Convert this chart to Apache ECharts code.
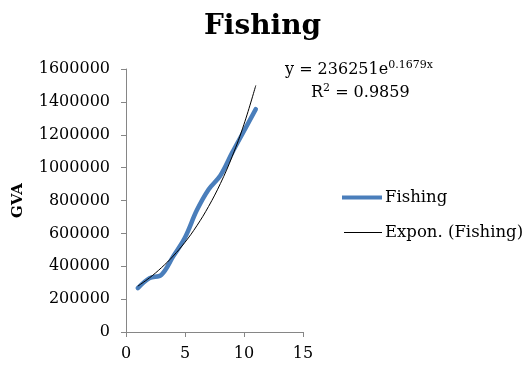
<!DOCTYPE html>
<html><head><meta charset="utf-8">
<script src="https://cdn.jsdelivr.net/npm/echarts@6/dist/echarts.min.js"></script>
<style>html,body{margin:0;padding:0;background:#fff}#c{width:525px;height:365px}</style>
</head><body><div id="c"></div>
<script>
const xValues = [1, 2, 3, 4, 5, 6, 7, 8, 9, 10, 11];
const fishing = [267000, 328000, 348000, 460000, 575000, 740000, 867000, 952000, 1091000, 1223000, 1356000];
const exponTrend = [279000, 330000, 391000, 462000, 546000, 646000, 764000, 903000, 1068000, 1264000, 1500000];
const yTicks = [0, 200000, 400000, 600000, 800000, 1000000, 1200000, 1400000, 1600000];
const xTicks = [0, 5, 10, 15];

const font = '"DejaVu Serif", serif';
const chart = echarts.init(document.getElementById('c'), null, {renderer: 'canvas'});
chart.setOption({
  animation: false,
  backgroundColor: '#fff',
  title: {text: 'Fishing', left: 'center', top: 8,
    textStyle: {fontFamily: font, fontWeight: 'bold', fontSize: 28, color: '#000'}},
  grid: {left: 126, top: 69, width: 177, height: 263, containLabel: false},
  xAxis: {type: 'value', min: xTicks[0], max: xTicks[xTicks.length - 1], interval: 5,
    axisLine: {show: true, lineStyle: {color: '#868686', width: 1}},
    axisTick: {show: true, inside: false, length: 5, lineStyle: {color: '#868686'}},
    splitLine: {show: false},
    axisLabel: {fontFamily: font, fontSize: 16, color: '#000', margin: 14, formatter: v => String(v)}},
  yAxis: {type: 'value', min: yTicks[0], max: yTicks[yTicks.length - 1], interval: 200000,
    name: 'GVA', nameLocation: 'middle', nameGap: 100, nameRotate: 90,
    nameTextStyle: {fontFamily: font, fontWeight: 'bold', fontSize: 15, color: '#000'},
    axisLine: {show: true, lineStyle: {color: '#868686', width: 1}},
    axisTick: {show: true, inside: false, length: 5, lineStyle: {color: '#868686'}},
    splitLine: {show: false},
    axisLabel: {fontFamily: font, fontSize: 16, color: '#000', margin: 16, formatter: v => String(v)}},
  legend: [
    {data: [{name: 'Fishing', icon: 'rect'}], left: 342, top: 189, padding: 0, itemWidth: 40, itemHeight: 4, itemGap: 4,
      textStyle: {fontFamily: font, fontSize: 16.5, color: '#000', padding: [0, 0, 0, -2]}},
    {data: [{name: 'Expon. (Fishing)', icon: 'rect'}], left: 344, top: 224, padding: 0, itemWidth: 38, itemHeight: 1, itemGap: 4,
      textStyle: {fontFamily: font, fontSize: 16.5, color: '#000', padding: [0, 0, 0, -2]}}
  ],
  graphic: [
    {type: 'text', left: 285, top: 60, style: {
      text: '{n|y = 236251e}{s|0.1679x}',
      rich: {n: {fontFamily: font, fontSize: 16, fill: '#000'},
             s: {fontFamily: font, fontSize: 11, fill: '#000', verticalAlign: 'top', padding: [0, 0, 8, 0]}}}},
    {type: 'text', left: 311, top: 83, style: {
      text: '{n|R}{s|2}{n| = 0.9859}',
      rich: {n: {fontFamily: font, fontSize: 16, fill: '#000'},
             s: {fontFamily: font, fontSize: 11, fill: '#000', verticalAlign: 'top', padding: [0, 0, 8, 0]}}}}
  ],
  series: [
    {name: 'Fishing', type: 'line', smooth: 0.35, showSymbol: false, symbol: 'none',
      data: xValues.map((x, i) => [x, fishing[i]]),
      lineStyle: {color: '#4A7EBB', width: 4.5, cap: 'round'}, itemStyle: {color: '#4A7EBB'}, z: 2},
    {name: 'Expon. (Fishing)', type: 'line', smooth: 0.4, showSymbol: false, symbol: 'none',
      data: xValues.map((x, i) => [x, exponTrend[i]]),
      lineStyle: {color: '#000', width: 1}, itemStyle: {color: '#000'}, z: 3}
  ]
});
</script></body></html>
